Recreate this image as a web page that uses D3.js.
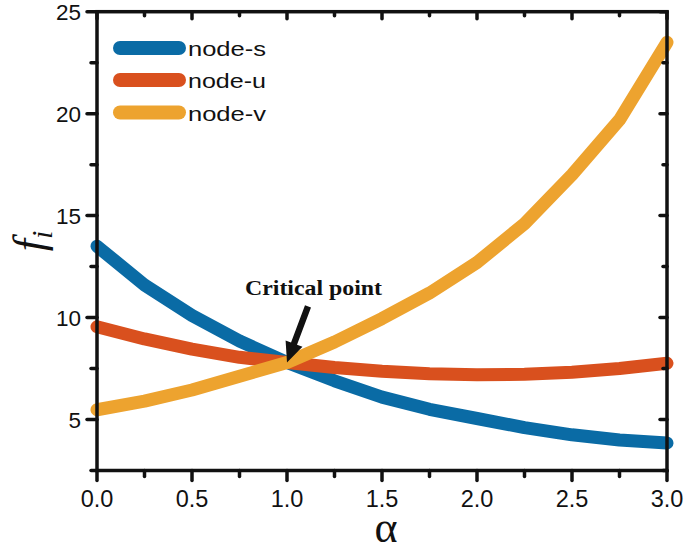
<!DOCTYPE html>
<html><head><meta charset="utf-8">
<script src="https://cdn.jsdelivr.net/npm/d3@7"></script>
<style>body{margin:0;background:#fff}svg{display:block}</style>
</head><body>
<svg id="c" width="685" height="546"></svg>
<script>
const alphas = [0, 0.25, 0.5, 0.75, 1.0, 1.25, 1.5, 1.75, 2.0, 2.25, 2.5, 2.75, 3.0];
const nodeS = [13.5, 11.6, 10.1, 8.85, 7.8, 6.9, 6.1, 5.5, 5.05, 4.6, 4.25, 4.0, 3.85];
const nodeU = [9.55, 8.95, 8.45, 8.05, 7.8, 7.55, 7.37, 7.25, 7.2, 7.22, 7.32, 7.5, 7.76];
const nodeV = [5.48, 5.9, 6.45, 7.12, 7.8, 8.8, 9.95, 11.2, 12.7, 14.6, 17.0, 19.7, 23.5];
const seriesNames = ["node-s", "node-u", "node-v"];
const seriesColors = ["#0A6BA5", "#D9501E", "#EDA32F"];
const xTicks = [0, 0.5, 1.0, 1.5, 2.0, 2.5, 3.0];
const xMinor = [0.25, 0.75, 1.25, 1.75, 2.25, 2.75];
const yTicks = [5, 10, 15, 20, 25];
const yMinor = [2.5, 7.5, 12.5, 17.5, 22.5];
const criticalPoint = {x: 1.0, y: 7.8, label: "Critical point"};

const svg = d3.select("#c");
const L = 97, R = 667, T = 11.7, B = 470.5;
const x = d3.scaleLinear().domain([0, 3]).range([L, R]);
const y = d3.scaleLinear().domain([2.5, 25]).range([B, T]);

// series lines
const series = [nodeS, nodeU, nodeV];
const line = d3.line().x((d, i) => x(alphas[i])).y(d => y(d));
series.forEach((s, k) => {
  svg.append("path").attr("d", line(s)).attr("fill", "none")
    .attr("stroke", seriesColors[k]).attr("stroke-width", 13)
    .attr("stroke-linecap", "round").attr("stroke-linejoin", "round");
});

// frame
const axW = 3.5;
svg.append("rect").attr("x", L).attr("y", T).attr("width", R - L).attr("height", B - T)
  .attr("fill", "none").attr("stroke", "#111").attr("stroke-width", axW);

const tick = (x1, y1, x2, y2) => svg.append("line").attr("x1", x1).attr("y1", y1)
  .attr("x2", x2).attr("y2", y2).attr("stroke", "#111").attr("stroke-width", axW)
  .attr("stroke-linecap", "round");

xTicks.forEach(v => { tick(x(v), B, x(v), B + 10); tick(x(v), T, x(v), T + 7); });
xMinor.forEach(v => { tick(x(v), B, x(v), B + 6); tick(x(v), T, x(v), T + 4); });
yTicks.forEach(v => { tick(L, y(v), L - 10, y(v)); tick(R, y(v), R - 7, y(v)); });
yMinor.forEach(v => { tick(L, y(v), L - 6, y(v)); tick(R, y(v), R - 4, y(v)); });

// tick labels
const fmt = d3.format(".1f");
svg.selectAll(".xl").data(xTicks).join("text").attr("class", "xl")
  .attr("x", d => x(d)).attr("y", 507).attr("text-anchor", "middle")
  .attr("font-family", "Liberation Sans, Arial, sans-serif").attr("font-size", 23.5)
  .attr("fill", "#111").text(d => fmt(d));
svg.selectAll(".yl").data(yTicks).join("text").attr("class", "yl")
  .attr("x", 81).attr("y", d => y(d) + 8).attr("text-anchor", "end")
  .attr("font-family", "Liberation Sans, Arial, sans-serif").attr("font-size", 22.5)
  .attr("fill", "#111").text(d => d);

// axis titles
svg.append("text").attr("x", 386).attr("y", 542).attr("text-anchor", "middle")
  .attr("font-family", "Liberation Serif, Times New Roman, serif").attr("font-size", 44)
  .attr("fill", "#111").text("α");
const yt = svg.append("text").attr("transform", "translate(44,241) rotate(-90)")
  .attr("text-anchor", "middle")
  .attr("font-family", "Liberation Serif, Times New Roman, serif").attr("font-style", "italic")
  .attr("font-size", 44).attr("fill", "#111");
yt.append("tspan").text("f");
yt.append("tspan").attr("font-size", 30).attr("dy", 8).text("i");

// legend
const legY = [48, 80, 112.5];
seriesNames.forEach((n, k) => {
  svg.append("line").attr("x1", 120).attr("x2", 179).attr("y1", legY[k]).attr("y2", legY[k])
    .attr("stroke", seriesColors[k]).attr("stroke-width", 14).attr("stroke-linecap", "round");
  svg.append("text").attr("x", 188).attr("y", legY[k] + 8)
    .attr("font-family", "Liberation Sans, Arial, sans-serif").attr("font-size", 21)
    .attr("textLength", 78).attr("lengthAdjust", "spacingAndGlyphs")
    .attr("fill", "#111").text(n);
});

// critical point annotation
const tx = x(criticalPoint.x), ty = y(criticalPoint.y);
const tailX = tx + 21, tailY = ty - 56;
const ang = Math.atan2(ty - tailY, tx - tailX);
const hl = 20, hw = 9, sw = 3.2;
const ux = Math.cos(ang), uy = Math.sin(ang), px = -uy, py = ux;
const bx = tx - ux * hl, by = ty - uy * hl;
const pts = [
  [tailX + px * sw, tailY + py * sw],
  [bx + px * sw, by + py * sw],
  [bx + px * hw, by + py * hw],
  [tx, ty],
  [bx - px * hw, by - py * hw],
  [bx - px * sw, by - py * sw],
  [tailX - px * sw, tailY - py * sw]
];
svg.append("path").attr("d", "M" + pts.map(p => p.join(",")).join("L") + "Z").attr("fill", "#111");
svg.append("text").attr("x", 245).attr("y", ty - 67)
  .attr("font-family", "Liberation Serif, Times New Roman, serif").attr("font-weight", "bold")
  .attr("font-size", 20).attr("textLength", 137).attr("lengthAdjust", "spacingAndGlyphs")
  .attr("fill", "#111").text(criticalPoint.label);
</script>
</body></html>
